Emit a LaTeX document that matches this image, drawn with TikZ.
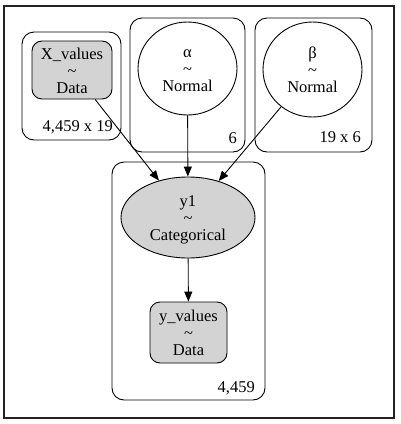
\documentclass[tikz,border=0pt]{standalone}
\usepackage{fontspec}
\setmainfont{Liberation Serif}
\usetikzlibrary{arrows.meta,shapes.geometric}
\definecolor{nodegray}{HTML}{D3D3D3}
\definecolor{framegray}{HTML}{222222}
\newcommand{\rvtext}[2]{\raisebox{-3pt}[\height][\depth]{\begin{tabular}{@{}c@{}}#1\\\textasciitilde\\#2\end{tabular}}}
\tikzset{
  x=1pt,y=-1pt,
  every node/.style={font=\fontsize{16.5}{17}\selectfont, inner sep=0pt},
  cluster/.style={draw=black, line width=0.9pt, rounded corners=12pt},
  datanode/.style={draw=black, line width=0.9pt, fill=nodegray, rounded corners=10pt, rectangle, minimum width=#1},
  rvnode/.style={draw=black, line width=0.9pt, ellipse},
  edge/.style={draw=black, line width=0.9pt, -{Triangle[length=10pt,width=8pt]}},
  platelabel/.style={anchor=base east},
}
\begin{document}
\begin{tikzpicture}
\useasboundingbox (0,0) rectangle (400,424);
\draw[framegray, line width=2pt] (4,6) rectangle (394,418);
% clusters
\draw[cluster] (22,32) rectangle (121,140);
\draw[cluster] (130,18) rectangle (245,152);
\draw[cluster] (255,18) rectangle (372,152);
\draw[cluster] (112,162) rectangle (265,400);
% plate labels
\node[platelabel] (lx) at (113,131) {4,459 x 19};
\node[platelabel] (la) at (237,143) {6};
\node[platelabel] (lb) at (361,142) {19 x 6};
\node[platelabel] (ly) at (255,392) {4,459};
% nodes
\node[datanode=80pt, minimum height=58pt] (xv) at (72,70) {\rvtext{X\_values}{Data}};
\node[rvnode, minimum width=99pt, minimum height=93pt] (alpha) at (187.5,68.5) {\rvtext{α}{Normal}};
\node[rvnode, minimum width=99pt, minimum height=95pt] (beta) at (312.5,69.5) {\rvtext{β}{Normal}};
\node[rvnode, fill=nodegray, minimum width=134pt, minimum height=81pt] (y1) at (188,217.5) {\rvtext{y1}{Categorical}};
\node[datanode=77pt, minimum height=61pt] (yv) at (188.5,332.5) {\rvtext{y\_values}{Data}};
% edges
\draw[edge] (xv) -- (y1);
\draw[edge] (alpha) -- (y1);
\draw[edge] (beta) -- (y1);
\draw[edge] (y1) -- (yv);
\end{tikzpicture}
\end{document}
